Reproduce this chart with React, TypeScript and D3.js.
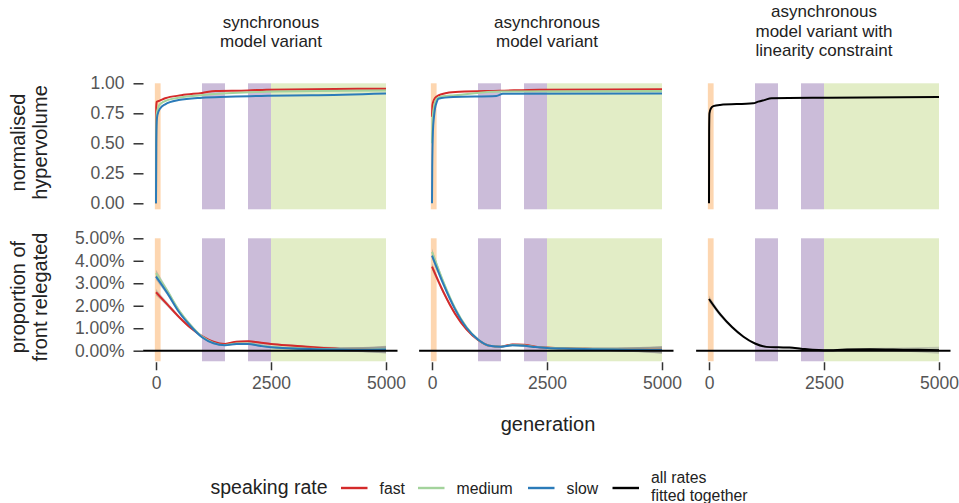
import { useEffect, useRef } from 'react'
import * as d3 from 'd3'

const W = 959
const H = 503

const TITLES = [
  ['synchronous', 'model variant'],
  ['asynchronous', 'model variant'],
  ['asynchronous', 'model variant with', 'linearity constraint'],
]
const RATE_COLORS: Record<string, string> = { fast: '#d42a2a', medium: '#a3d39c', slow: '#2b7bb9', all: '#000000' }
const X_TICKS = [0, 2500, 5000]
const HV_TICKS = [0, 0.25, 0.5, 0.75, 1]
const REL_TICKS = [0, 0.01, 0.02, 0.03, 0.04, 0.05]

// training phases (generations)
const PHASES = [
  { from: -25, to: 100, color: '#fdd6b0' },
  { from: 1000, to: 1500, color: '#cbbcd9' },
  { from: 2000, to: 2500, color: '#cbbcd9' },
  { from: 2500, to: 5000, color: '#e2edc6' },
]

// hypervolume: [generation, value]
const HV_SYNC_FAST = [[0, 0], [5, 0.8], [15, 0.845], [80, 0.855], [200, 0.875], [550, 0.9], [1000, 0.92], [1300, 0.936], [2000, 0.94], [2400, 0.947], [5000, 0.955]]
const HV_SYNC_MED = [[0, 0], [5, 0.6], [15, 0.74], [50, 0.8], [100, 0.83], [250, 0.86], [490, 0.88], [1200, 0.908], [2400, 0.93], [5000, 0.94]]
const HV_SYNC_SLOW = [[0, 0], [5, 0.5], [15, 0.68], [30, 0.735], [90, 0.79], [200, 0.825], [490, 0.86], [1000, 0.88], [1560, 0.888], [2430, 0.897], [3380, 0.9], [5000, 0.915]]
const HV_ASYNC_FAST = [[0, 0.72], [10, 0.82], [40, 0.86], [100, 0.89], [320, 0.92], [600, 0.93], [1470, 0.938], [2340, 0.947], [5000, 0.95]]
const HV_ASYNC_MED = [[0, 0.5], [15, 0.72], [50, 0.82], [100, 0.87], [200, 0.89], [500, 0.9], [1500, 0.932], [5000, 0.935]]
const HV_ASYNC_SLOW = [[0, 0], [5, 0.3], [20, 0.6], [40, 0.71], [65, 0.79], [100, 0.84], [140, 0.872], [460, 0.886], [1400, 0.894], [1540, 0.912], [5000, 0.916]]
const HV_LIN_ALL = [[0, 0], [3, 0.6], [10, 0.75], [40, 0.79], [94, 0.81], [240, 0.82], [960, 0.833], [1070, 0.847], [1200, 0.86], [1360, 0.875], [2600, 0.88], [5000, 0.886]]

// proportion of front relegated (%), smooth fits on a shared grid
const GRID = [0, 250, 500, 750, 1000, 1250, 1500, 1750, 2000, 2250, 2500, 3000, 3500, 4000, 4500, 5000]
const REL_SYNC_FAST = [2.6, 2.05, 1.5, 1.02, 0.65, 0.4, 0.3, 0.4, 0.42, 0.36, 0.3, 0.22, 0.14, 0.08, 0.05, 0.03]
const REL_SYNC_MED = [3.45, 2.65, 1.8, 1.15, 0.63, 0.35, 0.25, 0.32, 0.32, 0.24, 0.17, 0.11, 0.08, 0.06, 0.05, 0.06]
const REL_SYNC_SLOW = [3.3, 2.55, 1.72, 1.1, 0.6, 0.33, 0.24, 0.3, 0.3, 0.22, 0.15, 0.1, 0.07, 0.05, 0.04, 0.05]
const REL_ASYNC_FAST = [3.74, 2.6, 1.65, 0.95, 0.48, 0.22, 0.18, 0.28, 0.26, 0.18, 0.14, 0.1, 0.08, 0.06, 0.05, 0.04]
const REL_ASYNC_MED = [4.4, 3.05, 1.9, 1.05, 0.5, 0.22, 0.18, 0.25, 0.23, 0.17, 0.13, 0.1, 0.08, 0.06, 0.05, 0.04]
const REL_ASYNC_SLOW = [4.23, 2.95, 1.85, 1.02, 0.5, 0.22, 0.18, 0.24, 0.22, 0.16, 0.12, 0.09, 0.07, 0.05, 0.04, 0.03]
const REL_LIN_ALL = [2.3, 1.6, 1.05, 0.62, 0.32, 0.17, 0.15, 0.14, 0.09, 0.04, 0.02, 0.05, 0.06, 0.05, 0.04, 0.02]
// half width of the confidence bands (%)
const REL_SE = [0.15, 0.1, 0.07, 0.05, 0.04, 0.03, 0.03, 0.04, 0.04, 0.04, 0.04, 0.05, 0.06, 0.08, 0.11, 0.16]

const PANELS = [
  { hv: [['fast', HV_SYNC_FAST], ['medium', HV_SYNC_MED], ['slow', HV_SYNC_SLOW]], rel: [['fast', REL_SYNC_FAST], ['medium', REL_SYNC_MED], ['slow', REL_SYNC_SLOW]] },
  { hv: [['fast', HV_ASYNC_FAST], ['medium', HV_ASYNC_MED], ['slow', HV_ASYNC_SLOW]], rel: [['fast', REL_ASYNC_FAST], ['medium', REL_ASYNC_MED], ['slow', REL_ASYNC_SLOW]] },
  { hv: [['all', HV_LIN_ALL]], rel: [['all', REL_LIN_ALL]] },
]

const FONT = '"Liberation Sans", Arial, sans-serif'

export default function App() {
  const svgRef = useRef<SVGSVGElement>(null)

  useEffect(() => {
    if (!svgRef.current) return
    const svg = d3.select(svgRef.current)
    svg.selectAll('*').remove()
    svg.attr('font-family', FONT)

    const panelLeft = [156, 432, 709]
    const x = d3.scaleLinear().domain([0, 5000]).range([0, 230])
    const yHv = d3.scaleLinear().domain([0, 1]).range([203.3, 83.3])
    const yRel = d3.scaleLinear().domain([0, 0.05]).range([350.7, 238.3])

    PANELS.forEach((p, i) => {
      const g = svg.append('g').attr('transform', `translate(${panelLeft[i]},0)`)

      // title
      const title = TITLES[i]
      const t0 = title.length === 3 ? 17 : 27.5
      title.forEach((line, k) => {
        g.append('text').attr('x', x(2500)).attr('y', t0 + k * 19.5).attr('text-anchor', 'middle')
          .attr('font-size', 17).attr('fill', '#222').text(line)
      })

      // background phases
      PHASES.forEach(ph => {
        g.append('rect').attr('x', x(ph.from)).attr('width', x(ph.to) - x(ph.from))
          .attr('y', yHv(1)).attr('height', yHv(-0.05) - yHv(1)).attr('fill', ph.color)
        g.append('rect').attr('x', x(ph.from)).attr('width', x(ph.to) - x(ph.from))
          .attr('y', yRel(0.05)).attr('height', yRel(-0.0047) - yRel(0.05)).attr('fill', ph.color)
      })

      // hypervolume curves
      const hvLine = d3.line<number[]>().x(d => x(d[0])).y(d => yHv(d[1])).curve(d3.curveMonotoneX)
      p.hv.forEach(([rate, pts]) => {
        g.append('path').attr('d', hvLine(pts as number[][])).attr('fill', 'none')
          .attr('stroke', RATE_COLORS[rate as string]).attr('stroke-width', 2)
          .attr('stroke-linejoin', 'round')
      })

      // relegated: bands then lines
      const band = d3.area<number>().x((_, j) => x(GRID[j])).curve(d3.curveMonotoneX)
      p.rel.forEach(([, vals]) => {
        const v = vals as number[]
        band.y0((d, j) => yRel((d - REL_SE[j]) / 100)).y1((d, j) => yRel((d + REL_SE[j]) / 100))
        g.append('path').attr('d', band(v)).attr('fill', '#888').attr('opacity', 0.4)
      })
      const relLine = d3.line<number>().x((_, j) => x(GRID[j])).y(d => yRel(d / 100)).curve(d3.curveMonotoneX)
      p.rel.forEach(([rate, vals]) => {
        g.append('path').attr('d', relLine(vals as number[])).attr('fill', 'none')
          .attr('stroke', RATE_COLORS[rate as string]).attr('stroke-width', 2)
      })

      // zero line
      g.append('line').attr('x1', x(-280)).attr('x2', x(5250)).attr('y1', yRel(0)).attr('y2', yRel(0))
        .attr('stroke', '#000').attr('stroke-width', 2)

      // x axis
      const xa = g.append('g').attr('transform', `translate(0,${yRel(-0.0047) + 1})`)
        .call(d3.axisBottom(x).tickValues(X_TICKS).tickSize(8).tickPadding(6).tickFormat(d3.format('d')))
      xa.select('.domain').remove()
      xa.selectAll('line').attr('stroke', '#333').attr('stroke-width', 1.5)
      xa.selectAll('text').attr('fill', '#555').attr('font-size', 17.5).attr('font-family', FONT)
    })

    // y axes (first column)
    const ya = svg.append('g').attr('transform', 'translate(143.5,0)')
      .call(d3.axisLeft(yHv).tickValues(HV_TICKS).tickSize(10).tickPadding(9).tickFormat(d3.format('.2f')))
    const yb = svg.append('g').attr('transform', 'translate(143.5,0)')
      .call(d3.axisLeft(yRel).tickValues(REL_TICKS).tickSize(10).tickPadding(9).tickFormat(d3.format('.2%')))
    ;[ya, yb].forEach(a => {
      a.select('.domain').remove()
      a.selectAll('line').attr('stroke', '#333').attr('stroke-width', 1.5)
      a.selectAll('text').attr('fill', '#555').attr('font-size', 17.5).attr('font-family', FONT)
    })

    // y labels
    const ylab = (lines: string[], cy: number) => {
      lines.forEach((l, k) => {
        svg.append('text').attr('transform', `translate(${25 + k * 22},${cy}) rotate(-90)`)
          .attr('text-anchor', 'middle').attr('font-size', 20).attr('fill', '#222').text(l)
      })
    }
    ylab(['normalised', 'hypervolume'], 142.5)
    ylab(['proportion of', 'front relegated'], 297)

    svg.append('text').attr('x', 548).attr('y', 431).attr('text-anchor', 'middle')
      .attr('font-size', 20).attr('fill', '#222').text('generation')

    // legend
    const lg = svg.append('g')
    lg.append('text').attr('x', 210.5).attr('y', 494).attr('font-size', 19.5).attr('fill', '#222').text('speaking rate')
    const items = [
      { key: 'fast', label: ['fast'], x: 341 },
      { key: 'medium', label: ['medium'], x: 418 },
      { key: 'slow', label: ['slow'], x: 528 },
      { key: 'all', label: ['all rates', 'fitted together'], x: 612.5 },
    ]
    items.forEach(it => {
      lg.append('line').attr('x1', it.x).attr('x2', it.x + 26.5).attr('y1', 488).attr('y2', 488)
        .attr('stroke', RATE_COLORS[it.key]).attr('stroke-width', 2.4)
      it.label.forEach((l, k) => {
        const y0 = it.label.length > 1 ? 483 : 494
        lg.append('text').attr('x', it.x + 38.5).attr('y', y0 + k * 17.5).attr('font-size', 15.8)
          .attr('fill', '#222').text(l)
      })
    })
  }, [])

  return (
    <svg ref={svgRef} width={W} height={H} style={{ position: 'absolute', left: 0, top: 0, background: '#fff' }} />
  )
}
